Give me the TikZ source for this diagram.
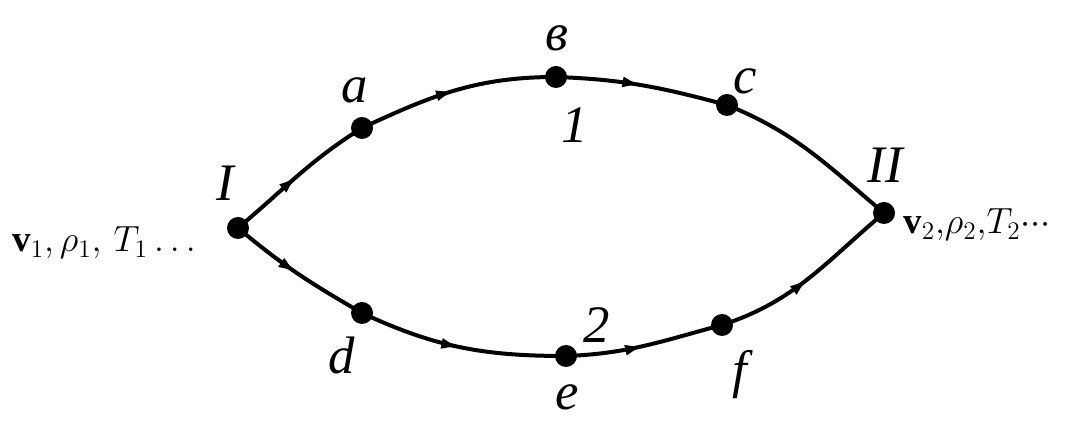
\documentclass[tikz,border=0pt]{standalone}
\usepackage{fontspec}
\setmainfont{Liberation Serif}
\usetikzlibrary{arrows.meta,decorations.markings}
\begin{document}
\begin{tikzpicture}[x=0.02cm,y=0.02cm,
  pt/.style={circle,fill=black,inner sep=0pt,minimum size=0.44cm},
  lbl/.style={font=\fontsize{30}{34}\selectfont\itshape},
  qty/.style={font=\fontsize{21}{24}\selectfont,inner sep=0pt},
  edge/.style={line width=0.08cm,
    postaction={decorate,decoration={markings,
      mark=at position 0.5 with {\arrow{Latex[length=4mm,width=2.2mm]}}}}},
  plain/.style={line width=0.08cm}]
\useasboundingbox (0,0) rectangle (1070,421);
\node[pt] (I) at (238,193) {};
\node[pt] (a) at (362,293) {};
\node[pt] (b) at (556,344) {};
\node[pt] (c) at (727,316) {};
\node[pt] (II) at (884,208) {};
\node[pt] (d) at (362,108) {};
\node[pt] (e) at (566,65) {};
\node[pt] (f) at (722,96) {};
% upper line 1
\draw[edge] (I.center) to[out=40,in=212] (a.center);
\draw[edge] (a.center) to[out=25,in=180] (b.center);
\draw[edge] (b.center) to[out=-2,in=165] (c.center);
\draw[plain] (c.center) to[out=-22,in=140] (II.center);
% lower line 2
\draw[edge] (I.center) to[out=-40,in=150] (d.center);
\draw[edge] (d.center) to[out=-25,in=180] (e.center);
\draw[edge] (e.center) to[out=2,in=195] (f.center);
\draw[edge] (f.center) to[out=18,in=220] (II.center);
% labels
\node[lbl] (lI) at (225,238) {I};
\node[lbl] (la) at (355,331) {a};
\node[lbl] (lb) at (557,383) {в};
\node[lbl] (l1) at (575,296) {1};
\node[lbl] (lc) at (745,340) {c};
\node[lbl] (lII) at (885,256) {II};
\node[lbl] (ld) at (342,66) {d};
\node[lbl] (l2) at (597,96) {2};
\node[lbl] (le) at (567,24) {e};
\node[lbl] (lf) at (740,46) {f};
\node[qty,anchor=west] (q1) at (12,178) {$\mathbf{v}_1,\rho_1,\,T_1\ldots$};
\node[qty,anchor=west] (q2) at (903,196) {$\mathbf{v}_2,\!\rho_2,\!T_2{\cdot}{\cdot}{\cdot}$};
\end{tikzpicture}
\end{document}
